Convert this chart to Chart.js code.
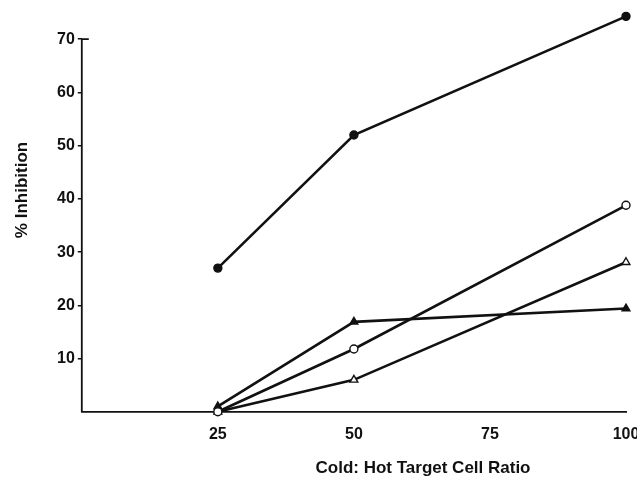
<!DOCTYPE html>
<html>
<head>
<meta charset="utf-8">
<script src="https://cdn.jsdelivr.net/npm/chart.js@4/dist/chart.umd.min.js"></script>
<style>
    html, body { margin: 0; padding: 0; background: #fff; overflow: hidden; }
    #inhibitionChart { display: block; }
</style>
</head>
<body>
<canvas id="inhibitionChart" width="651" height="484"></canvas>
<script>
// ==================== ДАННЫЕ ====================
const ratios = [25, 50, 100];
const filledCircle = [27, 52, 74.3];
const openCircle = [0, 11.8, 38.8];
const filledTriangle = [1, 16.9, 19.4];
const openTriangle = [0, 6, 28.1];

const xTicks = [25, 50, 75, 100];
const yTicks = [10, 20, 30, 40, 50, 60, 70];

const xTitle = 'Cold: Hot Target Cell Ratio';
const yTitle = '% Inhibition';

const INK = '#111';
const FONT = '"Liberation Sans", Arial, sans-serif';

function toPoints(values) {
    return ratios.map((r, i) => ({ x: r, y: values[i] }));
}

function series(values, style, filled) {
    return {
        data: toPoints(values),
        borderColor: INK,
        borderWidth: 2.6,
        pointStyle: style,
        pointRadius: style === 'triangle' ? 4.5 : 4,
        pointBorderWidth: 1.4,
        pointBorderColor: INK,
        pointBackgroundColor: filled ? INK : '#fff',
        tension: 0,
        clip: false
    };
}

// ось Y только до 70 + подписи осей в тех же местах, что в оригинале
const axisDecor = {
    id: 'axisDecor',
    beforeDatasetsDraw(chart) {
        const ctx = chart.ctx;
        const y = chart.scales.y;
        const left = chart.chartArea.left;
        const top = y.getPixelForValue(70);
        ctx.save();
        ctx.strokeStyle = INK;
        ctx.lineWidth = 1.8;
        ctx.beginPath();
        ctx.moveTo(left + 7, top);
        ctx.lineTo(left, top);
        ctx.lineTo(left, chart.chartArea.bottom);
        ctx.stroke();
        ctx.restore();
    },
    afterDraw(chart) {
        const ctx = chart.ctx;
        ctx.save();
        ctx.fillStyle = INK;
        ctx.font = 'bold 17px ' + FONT;
        ctx.textAlign = 'center';
        ctx.textBaseline = 'middle';
        ctx.fillText(xTitle, 423, 468);
        ctx.translate(22, 190);
        ctx.rotate(-Math.PI / 2);
        ctx.fillText(yTitle, 0, 0);
        ctx.restore();
    }
};

new Chart(document.getElementById('inhibitionChart'), {
    type: 'line',
    data: {
        datasets: [
            series(filledCircle, 'circle', true),
            series(openCircle, 'circle', false),
            series(filledTriangle, 'triangle', true),
            series(openTriangle, 'triangle', false)
        ]
    },
    options: {
        responsive: false,
        animation: false,
        layout: { padding: { left: 54, right: 25, top: 10, bottom: 35 } },
        plugins: {
            legend: { display: false },
            tooltip: { enabled: false }
        },
        scales: {
            x: {
                type: 'linear',
                min: 0,
                max: 100,
                afterBuildTicks: (axis) => { axis.ticks = xTicks.map(v => ({ value: v })); },
                grid: { display: false },
                border: { display: true, color: INK, width: 1.8 },
                ticks: { color: INK, font: { family: FONT, size: 16, weight: 'bold' }, padding: 5, maxRotation: 0 }
            },
            y: {
                min: 0,
                max: 75,
                afterBuildTicks: (axis) => { axis.ticks = yTicks.map(v => ({ value: v })); },
                grid: { display: true, drawOnChartArea: false, tickLength: 4, color: INK, lineWidth: 1.5 },
                border: { display: false },
                ticks: { color: INK, font: { family: FONT, size: 16, weight: 'bold' }, padding: 3 }
            }
        }
    },
    plugins: [axisDecor]
});
</script>
</body>
</html>
